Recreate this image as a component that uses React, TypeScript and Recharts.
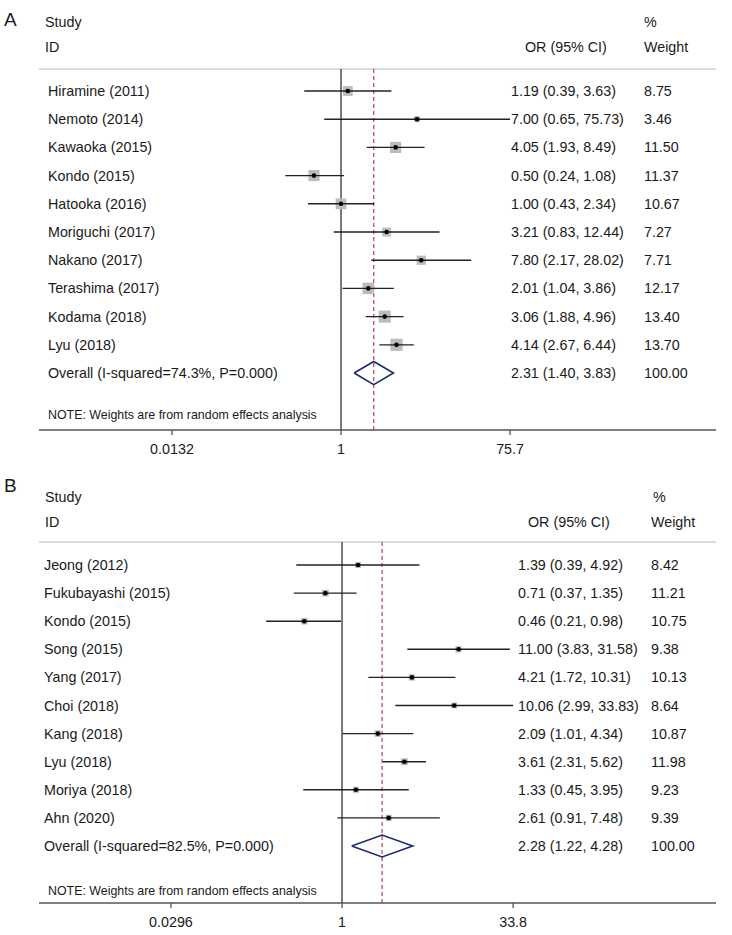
import React from 'react';
import {
  ComposedChart,
  Scatter,
  XAxis,
  YAxis,
  ReferenceLine,
  Customized,
} from 'recharts';

// Panel A
const studiesA = [
  'Hiramine (2011)',
  'Nemoto (2014)',
  'Kawaoka (2015)',
  'Kondo (2015)',
  'Hatooka (2016)',
  'Moriguchi (2017)',
  'Nakano (2017)',
  'Terashima (2017)',
  'Kodama (2018)',
  'Lyu (2018)',
];
const orA = [1.19, 7.0, 4.05, 0.5, 1.0, 3.21, 7.8, 2.01, 3.06, 4.14];
const lowA = [0.39, 0.65, 1.93, 0.24, 0.43, 0.83, 2.17, 1.04, 1.88, 2.67];
const highA = [3.63, 75.73, 8.49, 1.08, 2.34, 12.44, 28.02, 3.86, 4.96, 6.44];
const weightA = [8.75, 3.46, 11.5, 11.37, 10.67, 7.27, 7.71, 12.17, 13.4, 13.7];
const overallA = [2.31, 1.4, 3.83];
const overallLabelA = 'Overall (I-squared=74.3%, P=0.000)';
const ticksA = [0.0132, 1, 75.7];

// Panel B
const studiesB = [
  'Jeong (2012)',
  'Fukubayashi (2015)',
  'Kondo (2015)',
  'Song (2015)',
  'Yang (2017)',
  'Choi (2018)',
  'Kang (2018)',
  'Lyu (2018)',
  'Moriya (2018)',
  'Ahn (2020)',
];
const orB = [1.39, 0.71, 0.46, 11.0, 4.21, 10.06, 2.09, 3.61, 1.33, 2.61];
const lowB = [0.39, 0.37, 0.21, 3.83, 1.72, 2.99, 1.01, 2.31, 0.45, 0.91];
const highB = [4.92, 1.35, 0.98, 31.58, 10.31, 33.83, 4.34, 5.62, 3.95, 7.48];
const weightB = [8.42, 11.21, 10.75, 9.38, 10.13, 8.64, 10.87, 11.98, 9.23, 9.39];
const overallB = [2.28, 1.22, 4.28];
const overallLabelB = 'Overall (I-squared=82.5%, P=0.000)';
const ticksB = [0.0296, 1, 33.8];

const NOTE = 'NOTE: Weights are from random effects analysis';
const FONT = '"Liberation Sans", Arial, Helvetica, sans-serif';
const TXT = '#1a1a1a';
const FS = 14.3;

type Layout = {
  height: number;
  plotTop: number;
  plotBottom: number;
  xDomain: [number, number];
  yDomain: [number, number];
  boxScale: number;
  diamondHalf: number;
  nameX: number;
  orX: number;
  wX: number;
  orHeadX: number;
  pctX: number;
  wHeadX: number;
  letterY: number;
  studyY: number;
  idY: number;
  noteY: number;
};

const layoutA: Layout = {
  height: 470,
  plotTop: 69,
  plotBottom: 430,
  xDomain: [Math.pow(10, -3.358), Math.pow(10, 4.169)],
  yDomain: [0.22, 13.02],
  boxScale: 3.3,
  diamondHalf: 0.41,
  nameX: 48,
  orX: 511,
  wX: 644,
  orHeadX: 525,
  pctX: 644,
  wHeadX: 644,
  letterY: 26,
  studyY: 27,
  idY: 52,
  noteY: 419,
};

const layoutB: Layout = {
  height: 465,
  plotTop: 72,
  plotBottom: 433,
  xDomain: [Math.pow(10, -2.708), Math.pow(10, 3.342)],
  yDomain: [0.18, 13.03],
  boxScale: 2.0,
  diamondHalf: 0.39,
  nameX: 44,
  orX: 518,
  wX: 651,
  orHeadX: 528,
  pctX: 653,
  wHeadX: 651,
  letterY: 22,
  studyY: 32,
  idY: 57,
  noteY: 425,
};

const f2 = (v: number) => v.toFixed(2);
const Empty = () => <g />;

const ForestPanel = ({
  letter,
  studies,
  or,
  low,
  high,
  weight,
  overall,
  overallLabel,
  ticks,
  L,
}: {
  letter: string;
  studies: string[];
  or: number[];
  low: number[];
  high: number[];
  weight: number[];
  overall: number[];
  overallLabel: string;
  ticks: number[];
  L: Layout;
}) => {
  const rows = studies.map((name, i) => ({
    x: or[i],
    y: i + 1,
    name,
    orText: `${f2(or[i])} (${f2(low[i])}, ${f2(high[i])})`,
    wText: f2(weight[i]),
    weight: weight[i],
  }));
  const oy = studies.length + 1;
  const labels = [
    ...rows,
    {
      x: overall[0],
      y: oy,
      name: overallLabel,
      orText: `${f2(overall[0])} (${f2(overall[1])}, ${f2(overall[2])})`,
      wText: '100.00',
      weight: 100,
    },
  ];
  // diamond outline for the pooled estimate
  const diamond = [
    { x: overall[1], y: oy },
    { x: overall[0], y: oy - L.diamondHalf },
    { x: overall[2], y: oy },
    { x: overall[0], y: oy + L.diamondHalf },
    { x: overall[1], y: oy },
  ];

  const BoxShape = (p: any) => {
    const s = Math.sqrt(p.payload.weight) * L.boxScale;
    return <rect x={p.cx - s / 2} y={p.cy - s / 2} width={s} height={s} fill="#bcbcbc" />;
  };
  const DotShape = (p: any) => <circle cx={p.cx} cy={p.cy} r={2.3} fill="#000" />;
  const LabelShape = (p: any) => (
    <g fontSize={FS} fill={TXT}>
      <text x={L.nameX} y={p.cy + 5}>{p.payload.name}</text>
      <text x={L.orX} y={p.cy + 5}>{p.payload.orText}</text>
      <text x={L.wX} y={p.cy + 5}>{p.payload.wText}</text>
    </g>
  );

  const Header = () => (
    <g fill={TXT}>
      <text x={4} y={L.letterY} fontSize={19}>{letter}</text>
      <text x={45} y={L.studyY} fontSize={FS}>Study</text>
      <text x={45} y={L.idY} fontSize={FS}>ID</text>
      <text x={L.pctX} y={L.studyY} fontSize={FS}>%</text>
      <text x={L.orHeadX} y={L.idY} fontSize={FS}>OR (95% CI)</text>
      <text x={L.wHeadX} y={L.idY} fontSize={FS}>Weight</text>
      <text x={48} y={L.noteY} fontSize={12.4}>{NOTE}</text>
    </g>
  );

  return (
    <ComposedChart
      width={732}
      height={L.height}
      margin={{ top: L.plotTop, right: 16, left: 39, bottom: L.height - L.plotBottom - 30 }}
    >
      <XAxis
        type="number"
        dataKey="x"
        scale="log"
        domain={L.xDomain}
        allowDataOverflow
        ticks={ticks}
        tickFormatter={(v: number) => String(v)}
        axisLine={{ stroke: '#555', strokeWidth: 1.3 }}
        tickLine={{ stroke: '#555', strokeWidth: 1.3 }}
        tickSize={5}
        tickMargin={9}
        tick={{ fontSize: FS, fill: TXT }}
        height={30}
      />
      <YAxis type="number" dataKey="y" hide reversed domain={L.yDomain} allowDataOverflow />
      <ReferenceLine y={L.yDomain[0]} stroke="#d0d0d0" strokeWidth={1.5} />
      <ReferenceLine x={1} stroke="#333" strokeWidth={1.3} />
      <ReferenceLine x={overall[0]} stroke="#b8404e" strokeWidth={1.2} strokeDasharray="4 3" />
      <Customized component={<Header />} />
      <Scatter data={rows} shape={BoxShape} isAnimationActive={false} />
      {rows.map((r, i) => (
        <Scatter
          key={r.name}
          data={[
            { x: low[i], y: r.y },
            { x: high[i], y: r.y },
          ]}
          line={{ stroke: '#222', strokeWidth: 1.4 }}
          shape={Empty}
          isAnimationActive={false}
        />
      ))}
      <Scatter data={rows} shape={DotShape} isAnimationActive={false} />
      <Scatter
        data={diamond}
        line={{ stroke: '#1c2a6e', strokeWidth: 1.6 }}
        shape={Empty}
        isAnimationActive={false}
      />
      <Scatter data={labels} shape={LabelShape} isAnimationActive={false} />
    </ComposedChart>
  );
};

export default function App() {
  return (
    <div
      style={{
        position: 'absolute',
        left: 0,
        top: 0,
        width: 732,
        height: 935,
        background: '#fff',
        fontFamily: FONT,
      }}
    >
      <ForestPanel
        letter="A"
        studies={studiesA}
        or={orA}
        low={lowA}
        high={highA}
        weight={weightA}
        overall={overallA}
        overallLabel={overallLabelA}
        ticks={ticksA}
        L={layoutA}
      />
      <ForestPanel
        letter="B"
        studies={studiesB}
        or={orB}
        low={lowB}
        high={highB}
        weight={weightB}
        overall={overallB}
        overallLabel={overallLabelB}
        ticks={ticksB}
        L={layoutB}
      />
    </div>
  );
}
